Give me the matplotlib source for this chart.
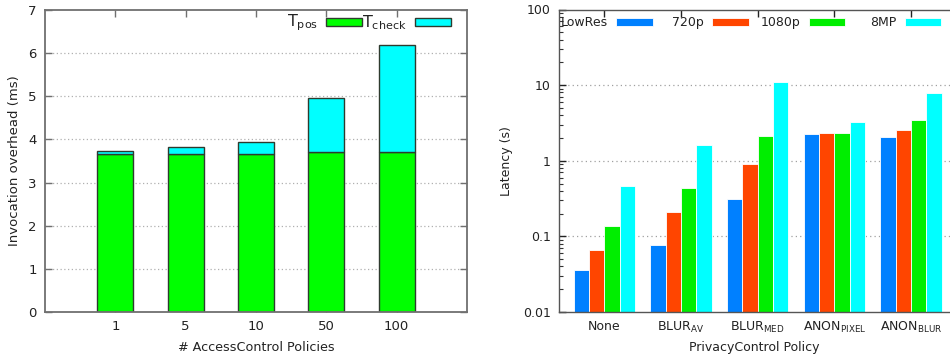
import matplotlib
matplotlib.use("Agg")
import matplotlib.pyplot as plt
import numpy as np
from matplotlib.patches import Rectangle

plt.rcParams["font.family"] = ["DejaVu Sans"]
plt.rcParams["mathtext.default"] = "regular"

# Invocation overhead vs. number of access-control policies
policy_counts = ["1", "5", "10", "50", "100"]
t_pos = [3.66, 3.66, 3.66, 3.70, 3.70]
t_check = [0.07, 0.17, 0.29, 1.27, 2.49]

# Latency per privacy-control policy and resolution
privacy_policies = ["None", r"BLUR$_{AV}$", r"BLUR$_{MED}$", r"ANON$_{PIXEL}$", r"ANON$_{BLUR}$"]
resolutions = ["LowRes", "720p", "1080p", "8MP"]
lat_lowres = [0.0356, 0.0764, 0.314, 2.26, 2.06]
lat_720p = [0.067, 0.209, 0.912, 2.33, 2.53]
lat_1080p = [0.138, 0.439, 2.14, 2.33, 3.43]
lat_8mp = [0.462, 1.61, 11.1, 3.26, 7.88]

W, H = 950, 361
fig = plt.figure(figsize=(W / 100, H / 100), dpi=100)
TXT = "#222222"

# ---------------- left panel: stacked bars ----------------
ax1 = fig.add_axes([45 / W, 49 / H, 422 / W, 302 / H])
x1 = np.arange(len(policy_counts))
bw1 = 0.51
for yv in range(1, 7):
    ax1.axhline(yv, linestyle=(0, (1, 2)), color="#b0b0b0", linewidth=0.9, zorder=1)
ax1.bar(x1, t_pos, bw1, color="#00ff00", edgecolor="#2e3b2e", linewidth=1.0, zorder=2)
ax1.bar(x1, t_check, bw1, bottom=t_pos, color="#00ffff", edgecolor="#2e3b2e", linewidth=1.0, zorder=2)
ax1.set_xlim(-1, 5)
ax1.set_ylim(0, 7)
ax1.set_xticks(x1)
ax1.set_xticklabels(policy_counts)
ax1.set_yticks(range(0, 8))
ax1.tick_params(direction="in", top=True, right=True, length=5, width=1,
                color="#707070", labelsize=9.5, labelcolor=TXT, pad=6)
for s in ax1.spines.values():
    s.set_color("#707070")
    s.set_linewidth(1.3)
ax1.set_xlabel("# AccessControl Policies", fontsize=9.2, color=TXT)
ax1.set_ylabel("Invocation overhead (ms)", fontsize=9.5, color=TXT)
ax1.xaxis.set_label_coords(0.5, -29 / 302)
ax1.yaxis.set_label_coords(-24 / 422, 0.5)

# gnuplot-style key: right-justified text followed by a sample box
key1 = [(r"T$_{pos}$", "#00ff00"), (r"T$_{check}$", "#00ffff")]
for i, (lab, col) in enumerate(key1):
    bx = 0.666 + i * 0.211
    ax1.add_patch(Rectangle((bx, 0.947), 0.0853, 0.025, transform=ax1.transAxes,
                            facecolor=col, edgecolor="#2e3b2e", linewidth=1.0, zorder=5))
    ax1.text(bx - 0.019, 0.958, lab, transform=ax1.transAxes, ha="right", va="center",
             fontsize=11.5, color=TXT, zorder=5)

# ---------------- right panel: grouped log bars ----------------
ax2 = fig.add_axes([559 / W, 49 / H, 391 / W, 302.5 / H])
series = [lat_lowres, lat_720p, lat_1080p, lat_8mp]
colors = ["#0080ff", "#ff4500", "#00ee00", "#00ffff"]
x2 = np.arange(len(privacy_policies))
bw2 = 0.2
for yv in [0.1, 1, 10]:
    ax2.axhline(yv, linestyle=(0, (1, 2.5)), color="#a0a0a0", linewidth=0.9, zorder=1)
for i, (vals, col) in enumerate(zip(series, colors)):
    ax2.bar(x2 + (i - 1.5) * bw2, vals, bw2, color=col, edgecolor="white",
            linewidth=0.6, zorder=2)
ax2.set_yscale("log")
ax2.set_ylim(0.01, 100)
ax2.set_xlim(-0.59, 4.51)
ax2.set_yticks([0.01, 0.1, 1, 10, 100])
ax2.set_yticklabels(["0.01", "0.1", "1", "10", "100"])
ax2.set_xticks(x2)
ax2.set_xticklabels(privacy_policies)
ax2.tick_params(axis="both", which="major", direction="in", top=True, right=False,
                length=5, width=1, color="#222222", labelsize=9, labelcolor=TXT, pad=6)
ax2.tick_params(axis="y", which="minor", direction="in", length=3, width=0.8, color="#333333")
ax2.tick_params(axis="x", which="minor", bottom=False, top=False)
for name, s in ax2.spines.items():
    s.set_color("#555555")
    s.set_linewidth(1.0)
ax2.spines["right"].set_visible(False)
ax2.set_xlabel("PrivacyControl Policy", fontsize=9, color=TXT)
ax2.set_ylabel("Latency (s)", fontsize=9, color=TXT)
ax2.xaxis.set_label_coords(0.5, -29 / 302.5)
ax2.yaxis.set_label_coords(-46 / 391, 0.5)

for i, (lab, col) in enumerate(zip(resolutions, colors)):
    bx = 0.1458 + i * 0.2463
    ax2.add_patch(Rectangle((bx, 0.945), 0.0934, 0.0264, transform=ax2.transAxes,
                            facecolor=col, edgecolor="white", linewidth=0.6, zorder=5))
    ax2.text(bx - 0.021, 0.958, lab, transform=ax2.transAxes, ha="right", va="center",
             fontsize=9, color=TXT, zorder=5)

fig.savefig("out.png", dpi=100)
